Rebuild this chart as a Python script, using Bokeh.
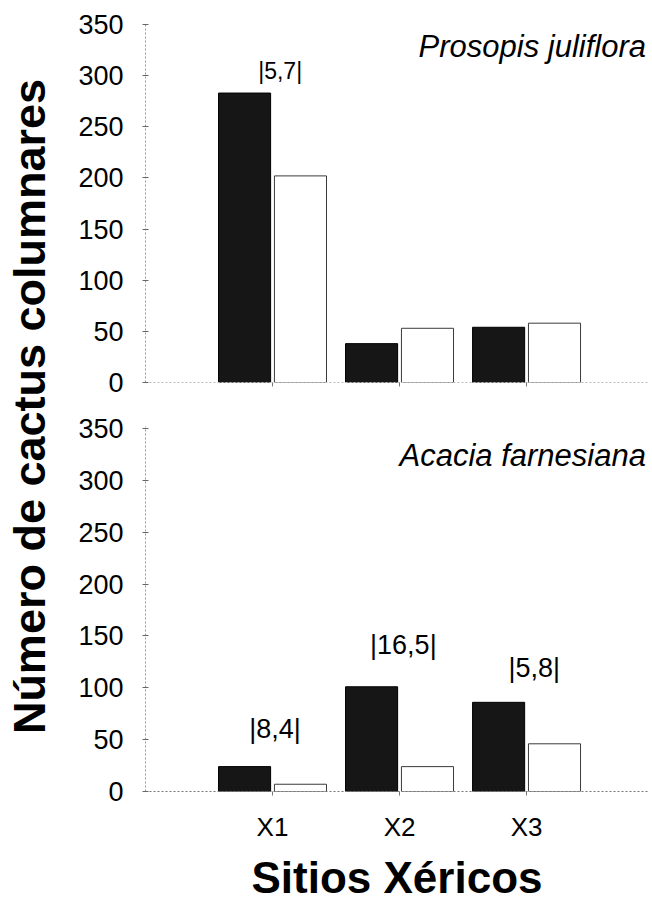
import math
from bokeh.plotting import figure
from bokeh.layouts import row, column
from bokeh.models import FixedTicker, Label
from bokeh.core.properties import value
from bokeh.embed import file_html
from bokeh.resources import INLINE

# ---------------- data ----------------
sites = ["X1", "X2", "X3"]
site_pos = [1, 2, 3]
y_ticks = [0, 50, 100, 150, 200, 250, 300, 350]

# Prosopis juliflora (dark / white bars)
prosopis_dark = [283, 38, 54]
prosopis_white = [202, 53, 58]
prosopis_notes = ["|5,7|"]
prosopis_note_x = [1.06]
prosopis_note_y = [305]

# Acacia farnesiana (dark / white bars)
acacia_dark = [24, 101, 86]
acacia_white = [7, 24, 46]
acacia_notes = ["|8,4|", "|16,5|", "|5,8|"]
acacia_note_x = [1.02, 2.03, 3.06]
acacia_note_y = [60, 141, 119]

FONT = "Liberation Sans"


def make_panel(dark, white, notes, nx, ny, note_size, species, species_y,
               height, btop, bbottom, y_end, bottom_panel):
    p = figure(width=592, height=height, x_range=(0, 3.96), y_range=(0, y_end),
               output_backend="svg", toolbar_location=None,
               min_border_left=85, min_border_right=4,
               min_border_top=btop, min_border_bottom=bbottom)
    p.outline_line_color = None
    p.xgrid.visible = False
    p.ygrid.visible = False
    p.background_fill_color = "white"
    p.border_fill_color = "white"

    p.vbar(x=[s - 0.22 for s in site_pos], top=dark, width=0.41,
           fill_color="#161616", line_color="#000000", line_width=1)
    p.vbar(x=[s + 0.22 for s in site_pos], top=white, width=0.41,
           fill_color="white", line_color="#3a3a3a", line_width=1)

    p.text(x=nx, y=ny, text=notes, text_align="center", text_baseline="middle",
           text_font=value(FONT), text_font_size=note_size, text_color="black")
    p.text(x=[3.94], y=[species_y], text=[species], text_align="right",
           text_baseline="middle", text_font=value(FONT), text_font_style="italic",
           text_font_size="31px", text_color="black")

    # y axis
    ya = p.yaxis[0]
    ya.ticker = FixedTicker(ticks=y_ticks)
    ya.major_label_text_font = FONT
    ya.major_label_text_font_size = "27px"
    ya.major_label_text_color = "black"
    ya.major_label_standoff = 19
    ya.major_tick_out = 3
    ya.major_tick_in = 3
    ya.major_tick_line_color = "#666666"
    ya.minor_tick_line_color = None
    ya.axis_line_color = "#9a9a9a"
    ya.axis_line_dash = "2 2"

    # x axis
    xa = p.xaxis[0]
    xa.ticker = FixedTicker(ticks=site_pos)
    xa.minor_tick_line_color = None
    xa.major_tick_out = 4
    xa.major_tick_in = 0
    xa.major_tick_line_color = "#777777"
    xa.axis_line_dash = "2 2"
    if bottom_panel:
        xa.major_label_overrides = {i: s for i, s in zip(site_pos, sites)}
        xa.major_label_text_font = FONT
        xa.major_label_text_font_size = "26px"
        xa.major_label_text_color = "black"
        xa.major_label_standoff = 16
        xa.axis_line_color = "#777777"
        xa.axis_label = "Sitios Xéricos"
        xa.axis_label_text_font = FONT
        xa.axis_label_text_font_size = "44px"
        xa.axis_label_text_font_style = "bold"
        xa.axis_label_text_color = "black"
        xa.axis_label_standoff = 8
    else:
        xa.major_label_overrides = {i: "" for i in site_pos}
        xa.major_label_text_font_size = "10px"
        xa.axis_line_color = "#bdbdbd"
    return p


p1 = make_panel(prosopis_dark, prosopis_white, prosopis_notes, prosopis_note_x,
                prosopis_note_y, "23px", "Prosopis juliflora", 329,
                405, 23, 23, 351, False)
p2 = make_panel(acacia_dark, acacia_white, acacia_notes, acacia_note_x,
                acacia_note_y, "27px", "Acacia farnesiana", 324,
                499, 21, 112, 352, True)

lab = figure(width=60, height=904, x_range=(0, 60), y_range=(0, 904),
             x_axis_type=None, y_axis_type=None, output_backend="svg",
             toolbar_location=None, min_border=0)
lab.outline_line_color = None
lab.xgrid.visible = False
lab.ygrid.visible = False
lab.add_layout(Label(x=29, y=498, text="Número de cactus columnares",
                     angle=math.pi / 2, text_align="center", text_baseline="middle",
                     text_font=FONT, text_font_size="45px", text_font_style="bold",
                     text_color="black"))

layout = row(lab, column(p1, p2))
open("out.html", "w").write(file_html(layout, INLINE))
